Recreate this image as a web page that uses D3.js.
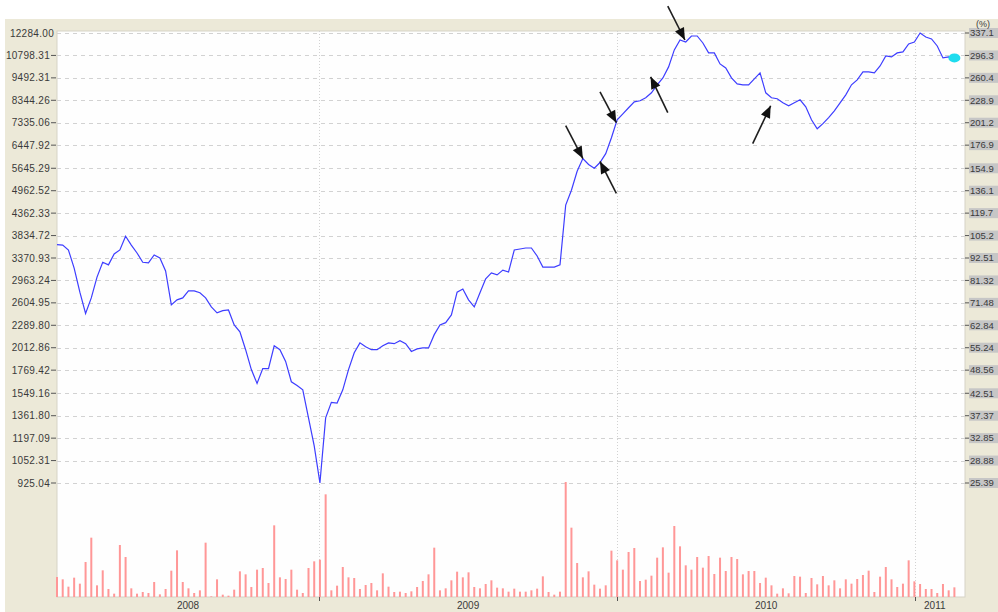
<!DOCTYPE html>
<html>
<head>
<meta charset="utf-8">
<script src="https://cdn.jsdelivr.net/npm/d3@7"></script>
<style>
  body { margin: 0; background: #fff; }
  text { font-family: "Liberation Sans", Arial, sans-serif; }
</style>
</head>
<body>
<div id="chart"></div>
<script>
// weekly closes, first week ends 2008-02-15
const firstWeek = "2008-02-15";
const closes = [3640,3630,3530,3180,2770,2450,2680,3020,3290,3240,
  3450,3530,3820,3630,3470,3290,3280,3430,3370,3130,
  2575,2650,2680,2790,2790,2760,2680,2545,2460,2490,
  2500,2295,2205,1990,1775,1640,1785,1785,2035,1990,
  1860,1655,1620,1580,1345,1145,925.04,1345,1470,1465,
  1580,1775,1955,2070,2025,1990,1990,2035,2070,2060,
  2095,2060,1970,2000,2010,2010,2170,2295,2325,2430,
  2770,2820,2650,2545,2760,2990,3095,3060,3145,3110,
  3530,3550,3570,3570,3410,3200,3200,3200,3240,4570,
  4975,5550,5970,5770,5645,5835,6140,6730,7460,7720,
  7995,8270,8320,8465,8710,9120,9490,10110,11145,11800,
  11665,12075,12075,11600,10955,10955,10285,10050,9490,9170,
  9120,9120,9440,9770,8710,8465,8420,8225,8085,8225,
  8370,8040,7460,7085,7295,7550,7855,8225,8610,9120,
  9385,9825,9825,9770,10165,10765,10705,10955,11020,11535,
  11665,12284,12005,11870,11400,10645,10705,10645];
const volumes = [60,53,31,58,40,105,178,35,80,24,
  10,156,120,26,10,15,12,45,8,24,
  79,140,45,26,12,20,163,2,53,7,
  4,22,77,68,30,82,87,42,215,59,
  54,82,22,12,87,107,112,308,20,34,
  90,59,57,24,36,42,20,71,31,15,
  16,12,17,30,48,68,148,20,26,50,
  76,59,74,30,26,39,50,28,26,16,
  25,16,16,20,25,62,15,7,16,345,
  208,102,59,77,37,25,35,139,110,82,
  135,147,48,52,64,118,149,73,213,152,
  95,82,120,88,123,69,118,78,120,114,
  68,78,78,42,58,35,10,26,11,63,
  61,12,57,38,63,35,50,26,53,40,
  54,66,79,15,61,90,53,30,40,110,
  47,39,24,24,12,39,20,29];

const leftTicks = ["12284.00","10798.31","9492.31","8344.26","7335.06","6447.92","5645.29","4962.52","4362.33","3834.72","3370.93",
  "2963.24","2604.95","2289.80","2012.86","1769.42","1549.16","1361.80","1197.09","1052.31","925.04"];
const rightTicks = ["337.1","296.3","260.4","228.9","201.2","176.9","154.9","136.1","119.7","105.2","92.51",
  "81.32","71.48","62.84","55.24","48.56","42.51","37.37","32.85","28.88","25.39"];
const years = [2008, 2009, 2010, 2011];

// annotation arrows: tail -> tip, in date / price
const arrowFrom = [["2009-10-30",7210],["2009-12-31",4890],["2009-12-11",8760],["2010-03-04",7770],["2010-03-04",14340],["2010-06-16",6505]];
const arrowTo = [["2009-11-20",5970],["2009-12-11",5870],["2009-12-31",7335],["2010-02-11",9550],["2010-03-25",11800],["2010-07-08",8085]];

const width = 998;
const height = 612;
const plotL = 57, plotR = 965, plotT = 31, plotB = 597;
const beige = "#ece9d8";

const parse = d3.timeParse("%Y-%m-%d");
const start = parse(firstWeek);
const weeks = closes.map((c, i) => d3.timeDay.offset(start, i * 7));
const data = closes.map((c, i) => ({date: weeks[i], close: c, vol: volumes[i]}));

const svg = d3.select("#chart").append("svg")
    .attr("width", width)
    .attr("height", height);

// panels
svg.append("rect").attr("x", 5).attr("y", 19).attr("width", width - 5).attr("height", height - 19).attr("fill", beige);
svg.append("rect").attr("x", plotL).attr("y", plotT).attr("width", plotR - plotL).attr("height", plotB - plotT)
    .attr("fill", "#fefefe").attr("stroke", "#d6d3c6").attr("stroke-width", 1);

const xScale = d3.scaleTime()
    .domain([start, parse("2011-03-03")])
    .range([plotL, plotR]);
const yScale = d3.scaleLog()
    .domain([+leftTicks[leftTicks.length - 1], +leftTicks[0]])
    .range([483, 33]);
const vScale = d3.scaleLinear()
    .domain([0, d3.max(volumes)])
    .range([plotB, 482]);

// horizontal grid
svg.append("g").selectAll("line")
    .data(leftTicks)
    .enter().append("line")
    .attr("x1", plotL).attr("x2", plotR)
    .attr("y1", d => Math.round(yScale(+d)) + 0.5)
    .attr("y2", d => Math.round(yScale(+d)) + 0.5)
    .attr("stroke", "#d2d2d2")
    .attr("stroke-dasharray", "4,4");

// year grid
const yearLines = xScale.ticks(d3.timeYear.every(1));
svg.append("g").selectAll("line")
    .data(yearLines)
    .enter().append("line")
    .attr("x1", d => Math.round(xScale(d)) + 0.5)
    .attr("x2", d => Math.round(xScale(d)) + 0.5)
    .attr("y1", plotT).attr("y2", plotB)
    .attr("stroke", "#d2d2d2")
    .attr("stroke-dasharray", "1,2");
svg.append("g").selectAll("line")
    .data(yearLines)
    .enter().append("line")
    .attr("x1", d => Math.round(xScale(d)) + 0.5)
    .attr("x2", d => Math.round(xScale(d)) + 0.5)
    .attr("y1", plotB).attr("y2", plotB + 4)
    .attr("stroke", "#555");

// volume bars
svg.append("g").selectAll("rect")
    .data(data)
    .enter().append("rect")
    .attr("x", d => xScale(d.date) - 1)
    .attr("width", 2)
    .attr("y", d => vScale(d.vol))
    .attr("height", d => plotB - vScale(d.vol))
    .attr("fill", "#ff9797");

// price line
const line = d3.line()
    .x(d => xScale(d.date))
    .y(d => yScale(d.close));
svg.append("path")
    .datum(data)
    .attr("d", line)
    .attr("fill", "none")
    .attr("stroke", "#3d3dff")
    .attr("stroke-width", 1.2);

const last = data[data.length - 1];
svg.append("ellipse")
    .attr("cx", xScale(last.date))
    .attr("cy", yScale(last.close))
    .attr("rx", 6).attr("ry", 4.5)
    .attr("fill", "#1fdcee");

// left axis
const lg = svg.append("g").selectAll("g")
    .data(leftTicks)
    .enter().append("g")
    .attr("transform", d => "translate(0," + yScale(+d) + ")");
lg.filter((d, i) => i > 0).append("line")
    .attr("x1", 51).attr("x2", 56).attr("stroke", "#555");
lg.append("text")
    .attr("x", d => d === leftTicks[0] ? 54 : 50)
    .attr("dy", "0.35em")
    .attr("text-anchor", "end")
    .attr("font-size", "10px")
    .attr("letter-spacing", "0.3px")
    .attr("fill", "#3a3a3a")
    .text(d => d);

// right axis
const rg = svg.append("g").selectAll("g")
    .data(rightTicks)
    .enter().append("g")
    .attr("transform", (d, i) => "translate(0," + yScale(+leftTicks[i]) + ")");
rg.append("line").attr("x1", plotR).attr("x2", 969).attr("stroke", "#555");
rg.append("rect")
    .attr("x", 969).attr("y", -5).attr("width", 29).attr("height", 10)
    .attr("fill", "#c6c6c6");
rg.append("text")
    .attr("x", 970)
    .attr("dy", "0.35em")
    .attr("font-size", "9.5px")
    .attr("fill", "#3a3a3a")
    .text(d => d);
svg.append("text")
    .attr("x", 983).attr("y", 27)
    .attr("text-anchor", "middle")
    .attr("font-size", "9px")
    .attr("fill", "#3a3a3a")
    .text("(%)");

// year labels centred on the part of each year that has data
const first = data[0].date;
svg.append("g").selectAll("text")
    .data(years)
    .enter().append("text")
    .attr("x", d => {
        const a = d3.max([new Date(d, 0, 1), first]);
        const b = d3.min([new Date(d + 1, 0, 1), last.date]);
        return (xScale(a) + xScale(b)) / 2;
    })
    .attr("y", 609)
    .attr("text-anchor", "middle")
    .attr("font-size", "10px")
    .attr("fill", "#3a3a3a")
    .text(d => d);

// arrows
const arrows = arrowFrom.map((f, i) => {
    const x1 = xScale(parse(f[0])), y1 = yScale(f[1]);
    const x2 = xScale(parse(arrowTo[i][0])), y2 = yScale(arrowTo[i][1]);
    return {x1, y1, x2, y2};
});
const ag = svg.append("g").selectAll("g")
    .data(arrows)
    .enter().append("g");
ag.append("line")
    .attr("x1", d => d.x1).attr("y1", d => d.y1)
    .attr("x2", d => d.x2).attr("y2", d => d.y2)
    .attr("stroke", "#1e1e1e")
    .attr("stroke-width", 1.6);
ag.append("polygon")
    .attr("points", d => {
        const len = Math.hypot(d.x2 - d.x1, d.y2 - d.y1);
        const ux = (d.x2 - d.x1) / len, uy = (d.y2 - d.y1) / len;
        const bx = d.x2 - ux * 12, by = d.y2 - uy * 12;
        return [[d.x2, d.y2], [bx - uy * 5, by + ux * 5], [bx + uy * 5, by - ux * 5]].join(" ");
    })
    .attr("fill", "#111");
</script>
</body>
</html>
